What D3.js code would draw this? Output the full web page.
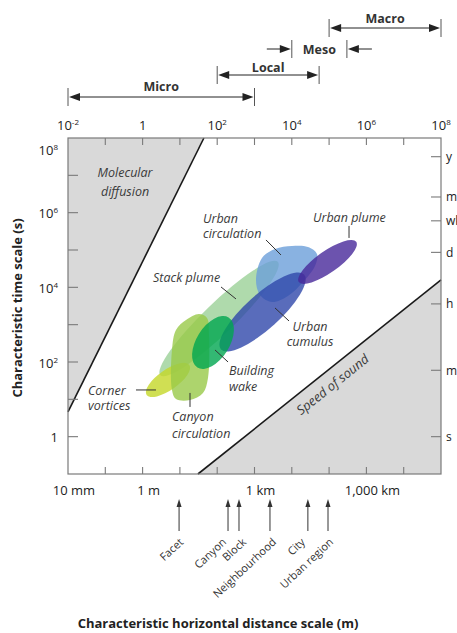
<!DOCTYPE html>
<html>
<head>
<meta charset="utf-8">
<script src="https://cdn.jsdelivr.net/npm/d3@7"></script>
<style>
  body { margin: 0; background: #fff; }
  text { font-family: "Open Sans", sans-serif; fill: #222; }
</style>
</head>
<body>
<svg></svg>
<script>
const size = {w: 457, h: 633};
const svg = d3.select('svg').attr('width', size.w).attr('height', size.h);

// ---------- data ----------
// axis tick values (exponents of ten)
const topExps = [-2, 0, 2, 4, 6, 8];
const leftExps = [0, 2, 4, 6, 8];
const bottomValues = [1e-2, 1, 1e3, 1e6];
const bottomLabels = ['10 mm', '1 m', '1 km', '1,000 km'];
const timeUnits = ['s', 'm', 'h', 'd', 'wk', 'mo', 'y'];
const timeSeconds = [1, 60, 3600, 86400, 604800, 2.63e6, 3.156e7];

// scale ranges along the top (m)
const rangeNames = ['Micro', 'Local', 'Meso', 'Macro'];
const rangeFrom = [1e-2, 1e2, 1e4, 1e5];
const rangeTo = [1e3, 5.4e4, 3e5, 1e8];

// urban length scales marked below the axis (m)
const siteNames = ['Facet', 'Canyon', 'Block', 'Neighbourhood', 'City', 'Urban region'];
const siteLengths = [9.5, 195, 384, 2600, 27000, 93500];

// limiting lines, [length m, time s]
const diffusionLine = [[1e-2, 4.6], [44, 1e8]];
const soundLine = [[30.5, 0.1], [1e8, 15800]];

// elliptical phenomena: centre as log10(length), log10(time); half axes in decades; tilt in degrees
const ellNames = ['Stack plume', 'Urban cumulus', 'Urban plume', 'Corner vortices', 'Building wake'];
const ellLogL = [2.05, 3.215, 4.957, 0.681, 1.887];
const ellLogT = [3.166, 3.34, 4.68, 1.519, 2.523];
const ellA = [2.19, 1.5, 0.94, 0.7, 0.79];
const ellB = [0.41, 0.46, 0.29, 0.27, 0.44];
const ellTilt = [44, 42, 35, 35, 58];

// outlined phenomena: [log10 length, log10 time]
const urbanCirculation = [[3.201, 4.787], [3.55, 5.028], [4.005, 5.108], [4.434, 5.082], [4.676, 4.894],
  [4.622, 4.573], [4.3, 4.144], [3.898, 3.769], [3.469, 3.608], [3.147, 3.796], [3.04, 4.198]];
const canyonCirculation = [[0.895, 2.858], [1.164, 3.126], [1.512, 3.287], [1.727, 3.18], [1.78, 2.724],
  [1.753, 1.572], [1.619, 1.171], [1.271, 0.983], [0.895, 1.01], [0.788, 1.251], [0.788, 2.323]];

// labels: lines, anchor [log10 L, log10 t], alignment
const labels = [
  {lines: ['Molecular', 'diffusion'], at: [-0.47, 6.957], anchor: 'middle', lh: 19},
  {lines: ['Urban', 'circulation'], at: [1.619, 5.725], anchor: 'start', lh: 15},
  {lines: ['Urban plume'], at: [4.568, 5.751], anchor: 'start', lh: 15},
  {lines: ['Stack plume'], at: [0.279, 4.144], anchor: 'start', lh: 15},
  {lines: ['Urban', 'cumulus'], at: [4.488, 2.831], anchor: 'middle', lh: 15},
  {lines: ['Building', 'wake'], at: [2.316, 1.653], anchor: 'start', lh: 16},
  {lines: ['Corner', 'vortices'], at: [-1.464, 1.117], anchor: 'start', lh: 15},
  {lines: ['Canyon', 'circulation'], at: [0.788, 0.421], anchor: 'start', lh: 17}
];
// leader lines [[logL, logT], [logL, logT]]
const leaders = [
  [[3.308, 5.269], [3.71, 4.867]],
  [[5.534, 5.644], [5.534, 5.323]],
  [[2.102, 4.01], [2.504, 3.689]],
  [[3.55, 3.448], [3.925, 3.099]],
  [[1.941, 2.323], [2.29, 2.001]],
  [[-0.177, 1.251], [0.359, 1.251]],
  [[1.271, 1.171], [1.271, 0.796]]
];

const colors = {
  'Stack plume': '#9bd197',
  'Urban circulation': '#6b9fda',
  'Urban cumulus': '#2f47aa',
  'Urban plume': '#47289a',
  'Corner vortices': '#c4d728',
  'Canyon circulation': '#98c948',
  'Building wake': '#00a650'
};
// nudges for the slanted marker labels so they sit like the original
const siteLabelDx = [5, -1, 8, 7, -2, 6];

// ---------- scales ----------
const x = d3.scaleLog().domain([1e-2, 1e8]).range([68, 441]);
const y = d3.scaleLog().domain([1e-1, 1e8]).range([474, 138]);
const decX = x(10) - x(1);
const decY = y(1) - y(10);
const px = p => x(Math.pow(10, p[0]));
const py = p => y(Math.pow(10, p[1]));

// ---------- shaded regions ----------
const g = svg.append('g');
const shade = '#d9d9d9';
g.append('path')
  .attr('d', d3.line()([[x(1e-2), y(1e8)], [x(diffusionLine[0][0]), y(diffusionLine[0][1])], [x(diffusionLine[1][0]), y(diffusionLine[1][1])]]) + 'Z')
  .attr('fill', shade);
g.append('path')
  .attr('d', d3.line()([[x(soundLine[0][0]), y(soundLine[0][1])], [x(1e8), y(1e-1)], [x(soundLine[1][0]), y(soundLine[1][1])]]) + 'Z')
  .attr('fill', shade);

// ---------- phenomena ----------
const blobs = svg.append('g');
const closed = d3.line().x(px).y(py).curve(d3.curveCatmullRomClosed.alpha(0.5));

function drawEllipse(name) {
  const i = ellNames.indexOf(name);
  blobs.append('ellipse')
    .attr('cx', 0).attr('cy', 0)
    .attr('rx', ellA[i] * decX).attr('ry', ellB[i] * decY)
    .attr('transform', `translate(${px([ellLogL[i], ellLogT[i]])},${py([ellLogL[i], ellLogT[i]])}) rotate(${-ellTilt[i]})`)
    .attr('fill', colors[name]).attr('fill-opacity', 0.8);
}
function drawOutline(name, pts) {
  blobs.append('path').attr('d', closed(pts))
    .attr('fill', colors[name]).attr('fill-opacity', 0.8);
}

drawEllipse('Stack plume');
drawOutline('Urban circulation', urbanCirculation);
drawEllipse('Urban cumulus');
drawEllipse('Urban plume');
drawEllipse('Corner vortices');
drawOutline('Canyon circulation', canyonCirculation);
drawEllipse('Building wake');

// ---------- limit lines ----------
[diffusionLine, soundLine].forEach(l => {
  svg.append('line')
    .attr('x1', x(l[0][0])).attr('y1', y(l[0][1]))
    .attr('x2', x(l[1][0])).attr('y2', y(l[1][1]))
    .attr('stroke', '#1a1a1a').attr('stroke-width', 1.6);
});

// ---------- frame and ticks ----------
const axisCol = '#7a7a7a';
svg.append('rect')
  .attr('x', x(1e-2)).attr('y', y(1e8))
  .attr('width', x(1e8) - x(1e-2)).attr('height', y(1e-1) - y(1e8))
  .attr('fill', 'none').attr('stroke', axisCol).attr('stroke-width', 1.2);

const decadesX = d3.range(-1, 8).map(e => Math.pow(10, e));
const decadesY = d3.range(0, 8).map(e => Math.pow(10, e));
const ticks = svg.append('g').attr('stroke', axisCol).attr('stroke-width', 1.1);
decadesX.forEach(v => {
  ticks.append('line').attr('x1', x(v)).attr('x2', x(v)).attr('y1', y(1e8)).attr('y2', y(1e8) + 7);
  ticks.append('line').attr('x1', x(v)).attr('x2', x(v)).attr('y1', y(1e-1)).attr('y2', y(1e-1) - 7);
});
decadesY.forEach(v => {
  ticks.append('line').attr('x1', x(1e-2)).attr('x2', x(1e-2) + 10).attr('y1', y(v)).attr('y2', y(v));
});
timeSeconds.forEach(v => {
  ticks.append('line').attr('x1', x(1e8)).attr('x2', x(1e8) - 10).attr('y1', y(v)).attr('y2', y(v));
});

function powerLabel(sel, e) {
  if (e === 0) { sel.text('1'); return; }
  sel.append('tspan').text('10');
  sel.append('tspan').attr('dy', -5).attr('font-size', 8).text(e);
}

topExps.forEach(e => {
  svg.append('text').attr('x', x(Math.pow(10, e))).attr('y', 130)
    .attr('text-anchor', 'middle').attr('font-size', 13)
    .call(powerLabel, e);
});
leftExps.forEach(e => {
  const yy = e === 8 ? y(1e8) + 17 : y(Math.pow(10, e)) + 5.5;
  svg.append('text').attr('x', 58).attr('y', yy)
    .attr('text-anchor', 'end').attr('font-size', 13)
    .call(powerLabel, e);
});
bottomValues.forEach((v, i) => {
  svg.append('text').attr('x', x(v) + 6).attr('y', 495)
    .attr('text-anchor', 'middle').attr('font-size', 13)
    .text(bottomLabels[i]);
});
timeSeconds.forEach((v, i) => {
  svg.append('text').attr('x', x(1e8) + 5).attr('y', y(v) + 4.5)
    .attr('font-size', 12).text(timeUnits[i]);
});

// ---------- annotations ----------
labels.forEach(lb => {
  const t = svg.append('text')
    .attr('x', px(lb.at)).attr('y', py(lb.at))
    .attr('text-anchor', lb.anchor)
    .attr('font-size', 12.5).attr('font-style', 'italic')
    .style('fill', '#3a3a3a');
  lb.lines.forEach((s, i) => {
    t.append('tspan').attr('x', px(lb.at)).attr('dy', i === 0 ? 0 : lb.lh).text(s);
  });
});
leaders.forEach(l => {
  svg.append('line')
    .attr('x1', px(l[0])).attr('y1', py(l[0]))
    .attr('x2', px(l[1])).attr('y2', py(l[1]))
    .attr('stroke', '#333').attr('stroke-width', 1);
});

// speed of sound, along its line
const sAng = Math.atan2(y(soundLine[1][1]) - y(soundLine[0][1]), x(soundLine[1][0]) - x(soundLine[0][0])) * 180 / Math.PI;
svg.append('text')
  .attr('transform', `translate(${px([5.105, 1.385])},${py([5.105, 1.385])}) rotate(${sAng})`)
  .attr('text-anchor', 'middle').attr('dy', 4)
  .attr('font-size', 13).attr('font-style', 'italic').style('fill', '#3a3a3a')
  .text('Speed of sound');

// ---------- scale ranges at top ----------
const arrowCol = '#222';
function arrowHead(xTip, yy, dir) {
  // dir = -1 points left, +1 points right
  svg.append('path')
    .attr('d', d3.line()([[xTip, yy], [xTip - dir * 11, yy - 4], [xTip - dir * 11, yy + 4]]) + 'Z')
    .attr('fill', arrowCol);
}
const rangeY = [97, 75, 49, 28];
const rangeLabelY = [91, 71.5, 53.5, 23];
rangeNames.forEach((n, i) => {
  const x0 = x(rangeFrom[i]), x1 = x(rangeTo[i]), yy = rangeY[i];
  svg.append('line').attr('x1', x0).attr('x2', x0).attr('y1', yy - 9).attr('y2', yy + 9)
    .attr('stroke', '#555').attr('stroke-width', 1);
  svg.append('line').attr('x1', x1).attr('x2', x1).attr('y1', yy - 9).attr('y2', yy + 9)
    .attr('stroke', '#555').attr('stroke-width', 1);
  if (n === 'Meso') {
    svg.append('line').attr('x1', x0 - 25).attr('x2', x0 - 8).attr('y1', yy).attr('y2', yy)
      .attr('stroke', arrowCol).attr('stroke-width', 1);
    arrowHead(x0 - 1, yy, 1);
    svg.append('line').attr('x1', x1 + 8).attr('x2', x1 + 25).attr('y1', yy).attr('y2', yy)
      .attr('stroke', arrowCol).attr('stroke-width', 1);
    arrowHead(x1 + 1, yy, -1);
  } else {
    svg.append('line').attr('x1', x0 + 6).attr('x2', x1 - 6).attr('y1', yy).attr('y2', yy)
      .attr('stroke', arrowCol).attr('stroke-width', 1);
    arrowHead(x0 + 1, yy, -1);
    arrowHead(x1 - 1, yy, 1);
  }
  svg.append('text').attr('x', (x0 + x1) / 2).attr('y', rangeLabelY[i])
    .attr('text-anchor', 'middle').attr('font-size', 12.5).attr('font-weight', 'bold')
    .style('fill', '#333').text(n);
});

// ---------- urban length scale markers ----------
siteNames.forEach((n, i) => {
  const xx = x(siteLengths[i]);
  svg.append('line').attr('x1', xx).attr('x2', xx).attr('y1', 531).attr('y2', 505)
    .attr('stroke', '#333').attr('stroke-width', 1);
  svg.append('path')
    .attr('d', d3.line()([[xx, 499], [xx - 2.5, 507], [xx + 2.5, 507]]) + 'Z')
    .attr('fill', '#333');
  svg.append('text')
    .attr('transform', `translate(${xx + siteLabelDx[i]},${543}) rotate(-43)`)
    .attr('text-anchor', 'end').attr('font-size', 11)
    .style('fill', '#333')
    .text(n);
});

// ---------- axis titles ----------
svg.append('text')
  .attr('transform', `translate(22,${(y(1e8) + y(1e-1)) / 2 + 2}) rotate(-90)`)
  .attr('text-anchor', 'middle').attr('font-size', 13).attr('font-weight', 'bold')
  .text('Characteristic time scale (s)');
svg.append('text')
  .attr('x', 218).attr('y', 628)
  .attr('text-anchor', 'middle').attr('font-size', 13).attr('font-weight', 'bold')
  .text('Characteristic horizontal distance scale (m)');
</script>
</body>
</html>
